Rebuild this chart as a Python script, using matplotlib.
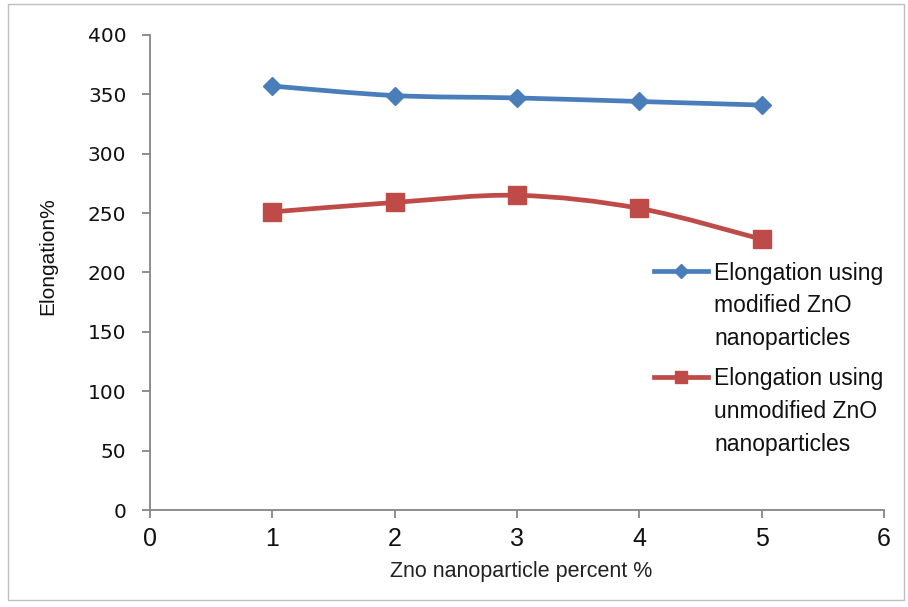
import matplotlib
matplotlib.use("Agg")
import matplotlib.pyplot as plt
from matplotlib.path import Path
from matplotlib.patches import PathPatch, Rectangle
from matplotlib.lines import Line2D
import numpy as np

x_vals = [1, 2, 3, 4, 5]
modified = [357, 349, 347, 344, 341]
unmodified = [251, 259, 265, 254, 228]
x_ticks = [0, 1, 2, 3, 4, 5, 6]
y_ticks = [0, 50, 100, 150, 200, 250, 300, 350, 400]
label_mod = ["Elongation using", "modified ZnO", "nanoparticles"]
label_unmod = ["Elongation using", "unmodified ZnO", "nanoparticles"]

BLUE = "#4A7EBB"
RED = "#BE4B48"
AXC = "#868686"
TXT = "#111111"
FONT = "Liberation Sans"
W, H = 908, 607

fig = plt.figure(figsize=(9.08, 6.07), dpi=100)
fig.patches.append(Rectangle((0.009, 0.012), 0.987, 0.981, transform=fig.transFigure,
                             fill=False, edgecolor="#BFBFBF", linewidth=1.0))
ax = fig.add_axes([150 / W, 1 - 510 / H, 734 / W, 475 / H])


def fx(px):
    return px / W


def fy(py):
    return 1 - py / H


def smooth_path(xs, ys, t=1/6):
    xs = np.asarray(xs, float); ys = np.asarray(ys, float)
    verts = [(xs[0], ys[0])]
    codes = [Path.MOVETO]
    n = len(xs)
    for i in range(n - 1):
        p0 = (xs[max(i - 1, 0)], ys[max(i - 1, 0)])
        p1 = (xs[i], ys[i]); p2 = (xs[i + 1], ys[i + 1])
        p3 = (xs[min(i + 2, n - 1)], ys[min(i + 2, n - 1)])
        c1 = (p1[0] + (p2[0] - p0[0]) * t, p1[1] + (p2[1] - p0[1]) * t)
        c2 = (p2[0] - (p3[0] - p1[0]) * t, p2[1] - (p3[1] - p1[1]) * t)
        verts += [c1, c2, p2]
        codes += [Path.CURVE4] * 3
    return Path(verts, codes)


series = [(modified, BLUE, "D", 9, 7, label_mod, 271),
          (unmodified, RED, "s", 13, 9, label_unmod, 377)]
for ys, col, mk, ms, lms, lab, ly in series:
    ax.add_patch(PathPatch(smooth_path(x_vals, ys), facecolor="none", edgecolor=col,
                           linewidth=3.4, capstyle="round", joinstyle="round", zorder=2))
    ax.plot(x_vals, ys, linestyle="none", marker=mk, markersize=ms, color=col,
            markeredgecolor=col, zorder=3)
    # legend entry
    fig.add_artist(Line2D([fx(654), fx(708)], [fy(ly), fy(ly)], color=col,
                          linewidth=3.4, transform=fig.transFigure))
    fig.add_artist(Line2D([fx(681)], [fy(ly)], marker=mk, markersize=lms, color=col,
                          linestyle="none", transform=fig.transFigure))
    for k, line in enumerate(lab):
        fig.text(fx(714), fy(ly + 2 + 32.5 * k), line, fontsize=16.5, fontfamily=FONT,
                 color=TXT, ha="left", va="center")

ax.set_xlim(0, 6)
ax.set_ylim(0, 400)
ax.set_xticks(x_ticks)
ax.set_yticks(y_ticks)
for s in ["top", "right"]:
    ax.spines[s].set_visible(False)
for s in ["left", "bottom"]:
    ax.spines[s].set_color(AXC)
    ax.spines[s].set_linewidth(1.3)
ax.tick_params(axis="both", direction="out", length=6, color=AXC, width=1.3)
ax.tick_params(axis="y", labelsize=14.5, pad=11)
ax.tick_params(axis="x", labelsize=18, pad=6)
for lab in ax.get_yticklabels():
    lab.set_fontfamily("DejaVu Sans")
    lab.set_color(TXT)
for lab in ax.get_xticklabels():
    lab.set_fontfamily(FONT)
    lab.set_color(TXT)

fig.text(fx(48), fy(256), "Elongation%", rotation=90, fontsize=15, fontfamily=FONT,
         color=TXT, ha="center", va="center")
fig.text(fx(521), fy(572), "Zno nanoparticle percent %", fontsize=15.5, fontfamily=FONT,
         color="#222222", ha="center", va="center")

fig.savefig("out.png", dpi=100)
